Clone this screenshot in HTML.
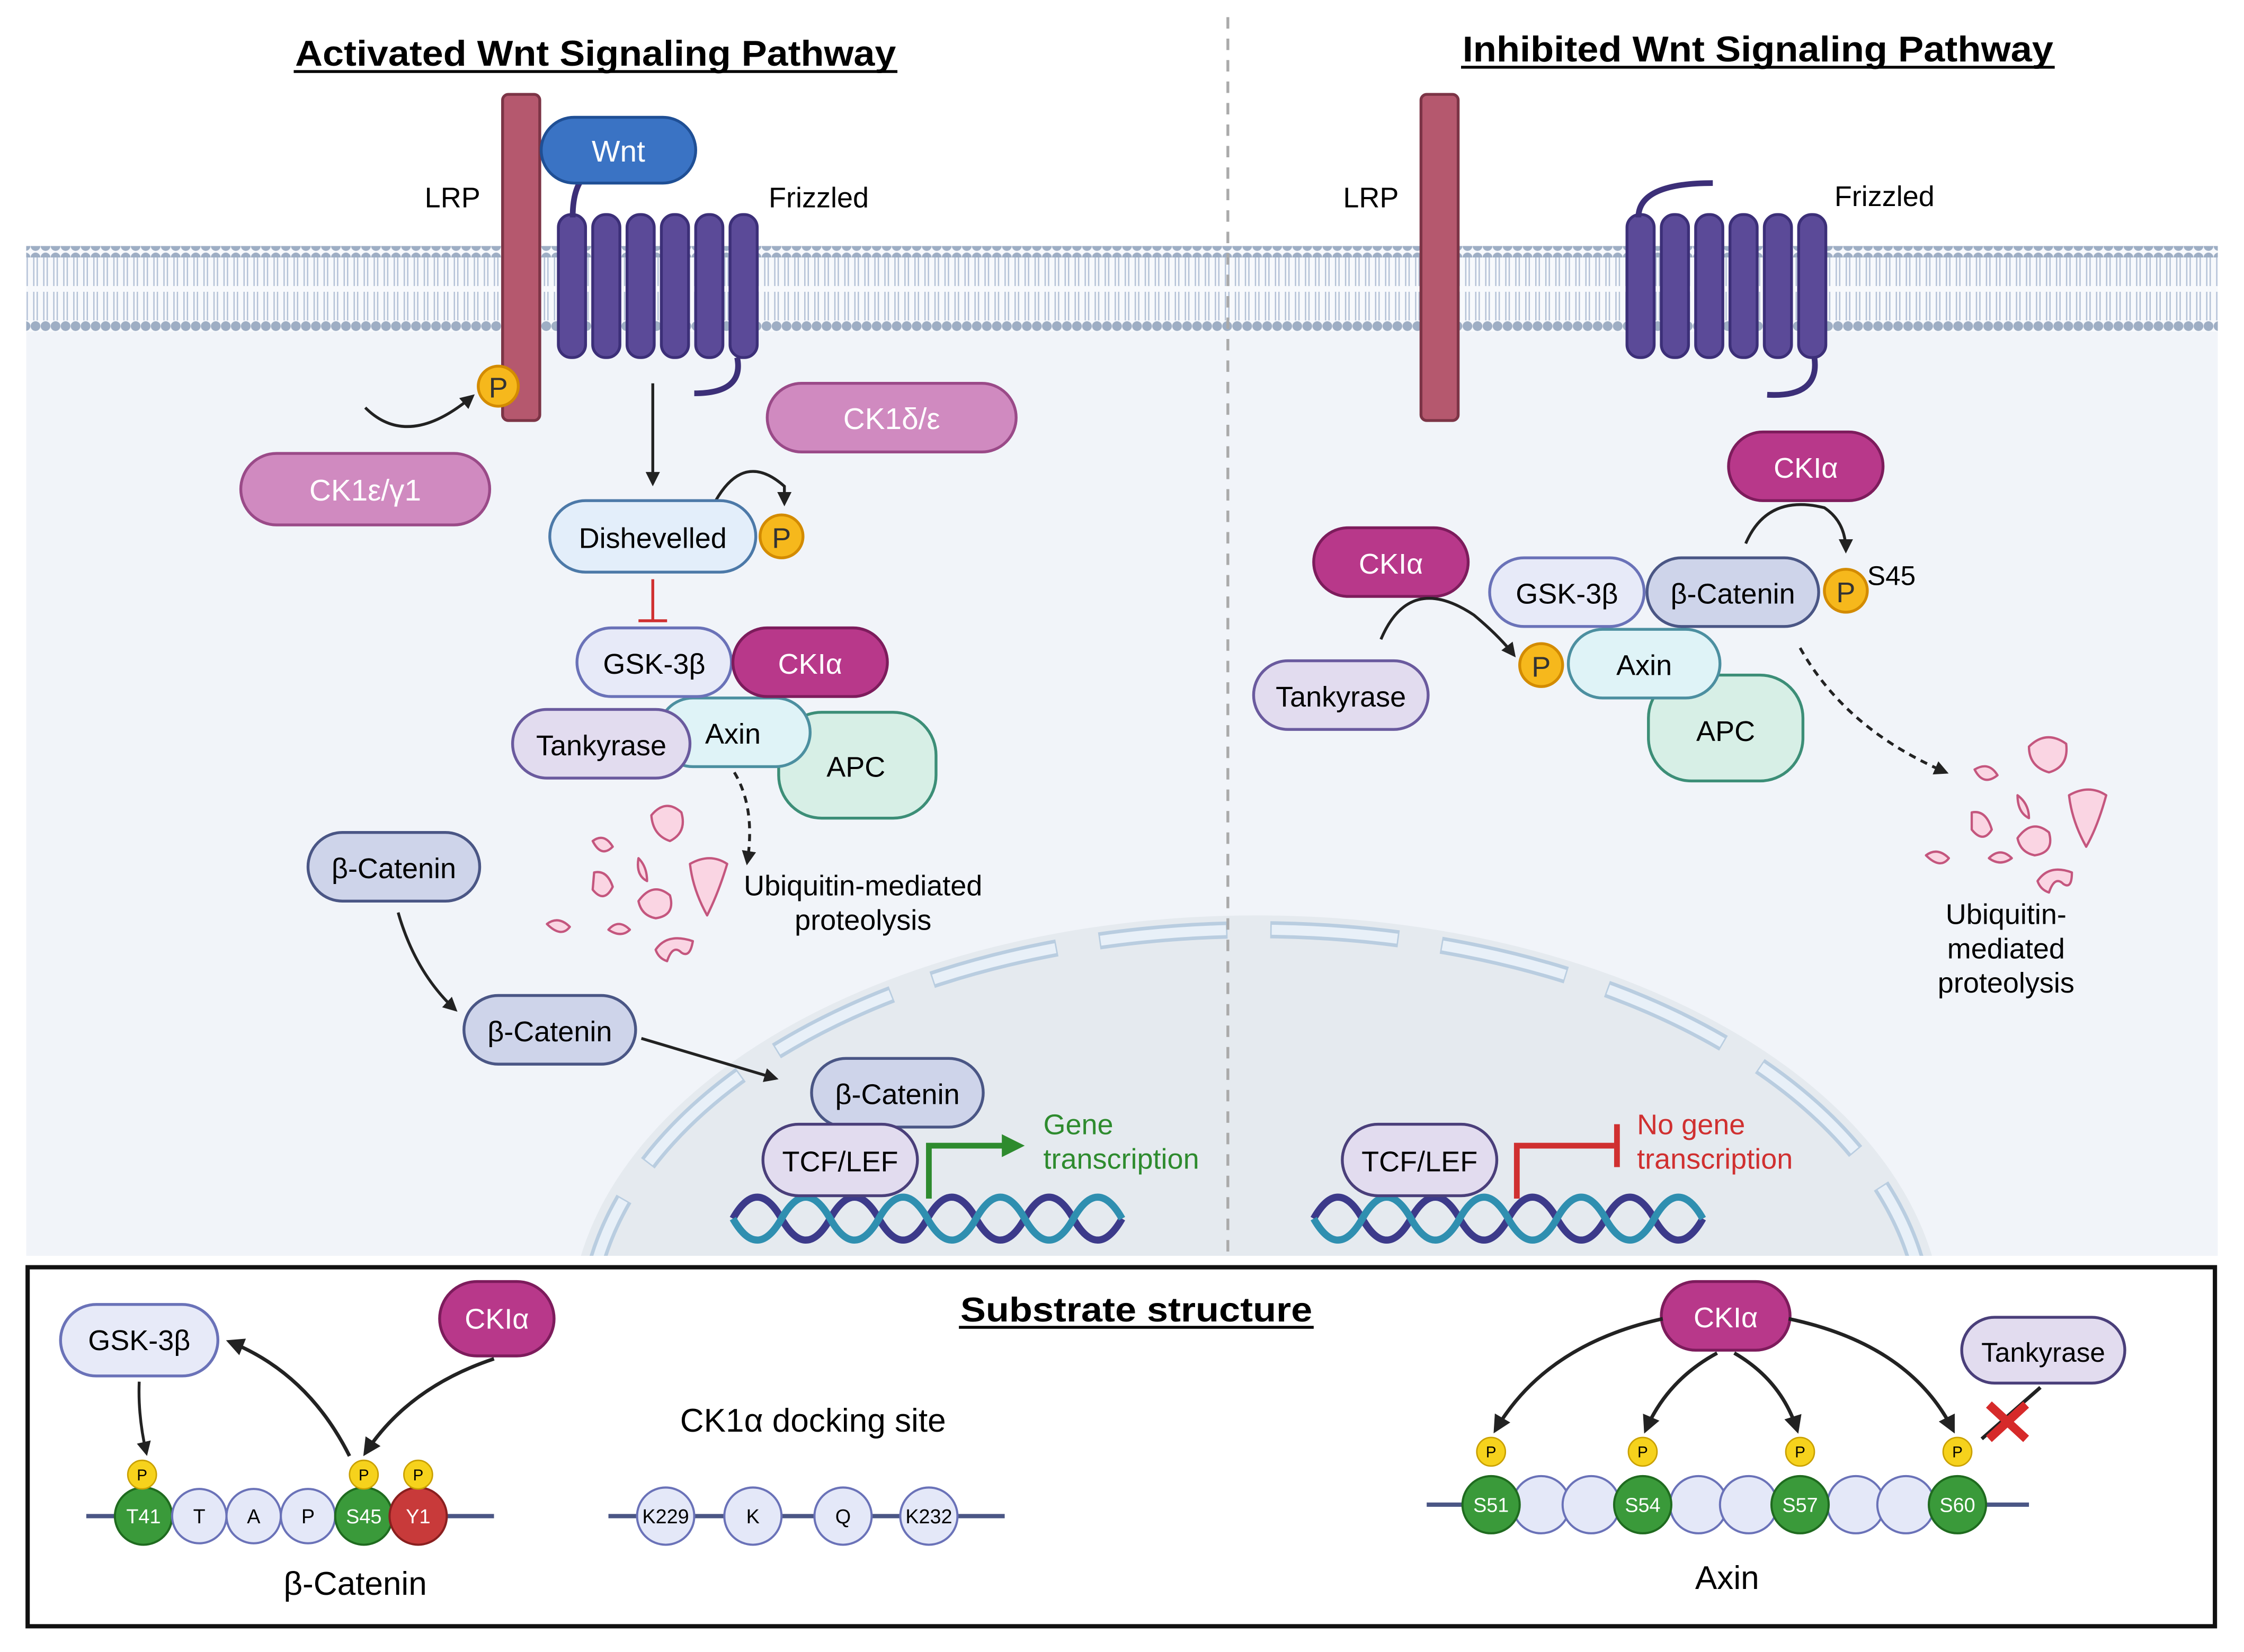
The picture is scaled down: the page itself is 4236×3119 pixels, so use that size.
<!DOCTYPE html>
<html><head><meta charset="utf-8"><style>
html,body{margin:0;padding:0;background:#fff;width:4236px;height:3119px;overflow:hidden}
svg{display:block}
text{font-family:"Liberation Sans",sans-serif}
</style></head><body>
<svg width="4236" height="3119" viewBox="0 0 1568 1155" xmlns="http://www.w3.org/2000/svg">
<defs>
<marker id="ah" viewBox="0 0 10 10" refX="8" refY="5" markerWidth="5" markerHeight="5" orient="auto"><path d="M0,0 L10,5 L0,10 z" fill="#222"/></marker>
<marker id="ahg" viewBox="0 0 10 10" refX="5" refY="5" markerWidth="4" markerHeight="4" orient="auto"><path d="M0,0 L10,5 L0,10 z" fill="#2e8b2e"/></marker>
<pattern id="dots" width="7" height="8" patternUnits="userSpaceOnUse">
<circle cx="3.5" cy="4" r="3.4" fill="#9eaec4"/>
</pattern>
<pattern id="tails" width="7" height="20" patternUnits="userSpaceOnUse">
<line x1="2.3" y1="0" x2="2.3" y2="20" stroke="#b3c1d6" stroke-width="0.9"/>
<line x1="4.7" y1="0" x2="4.7" y2="20" stroke="#b3c1d6" stroke-width="0.9"/>
</pattern>
</defs>
<rect width="1568" height="1155" fill="#fff"/>
<rect x="18" y="200" width="1532" height="678" fill="#f1f4f9"/>
<!-- nucleus -->
<clipPath id="cl"><rect x="0" y="0" width="1568" height="878"/></clipPath>
<g clip-path="url(#cl)">
<ellipse cx="878" cy="930" rx="480" ry="290" fill="#e5eaef"/>
<ellipse cx="878" cy="930" rx="468" ry="280" fill="none" stroke="#b9cde0" stroke-width="12" stroke-dasharray="90 30"/>
<ellipse cx="878" cy="930" rx="468" ry="280" fill="none" stroke="#e8f0f8" stroke-width="7" stroke-dasharray="88 32" stroke-dashoffset="-1"/>
</g>
<!-- membrane -->
<rect x="18" y="172" width="1532" height="60" fill="#f7f9fc"/>
<rect x="18" y="180" width="1532" height="20" fill="url(#tails)"/>
<rect x="18" y="204" width="1532" height="20" fill="url(#tails)"/>
<rect x="18" y="172" width="1532" height="8" fill="url(#dots)"/>
<rect x="18" y="224" width="1532" height="8" fill="url(#dots)"/>
<line x1="858" y1="12" x2="858" y2="878" stroke="#aaa" stroke-width="2" stroke-dasharray="8 7"/>
<!-- titles -->
<text x="206" y="46" font-size="25" font-weight="bold" textLength="420" lengthAdjust="spacingAndGlyphs">Activated Wnt Signaling Pathway</text>
<line x1="205" y1="50" x2="627" y2="50" stroke="#000" stroke-width="2"/>
<text x="1022" y="43" font-size="25" font-weight="bold" textLength="413" lengthAdjust="spacingAndGlyphs">Inhibited Wnt Signaling Pathway</text>
<line x1="1021" y1="47" x2="1436" y2="47" stroke="#000" stroke-width="2"/>
<!-- LRP -->
<rect x="351" y="66" width="26" height="228" rx="4" fill="#b5586e" stroke="#7c3446" stroke-width="2"/>
<text x="316" y="145" font-size="20" text-anchor="middle">LRP</text>
<rect x="993" y="66" width="26" height="228" rx="4" fill="#b5586e" stroke="#7c3446" stroke-width="2"/>
<text x="958" y="145" font-size="20" text-anchor="middle">LRP</text>
<!-- Frizzled left -->
<g fill="#5b4a98" stroke="#3c2f78" stroke-width="2">
<rect x="390" y="150" width="19" height="100" rx="9"/><rect x="414" y="150" width="19" height="100" rx="9"/><rect x="438" y="150" width="19" height="100" rx="9"/><rect x="462" y="150" width="19" height="100" rx="9"/><rect x="486" y="150" width="19" height="100" rx="9"/><rect x="510" y="150" width="19" height="100" rx="9"/>
</g>
<path d="M400 152 Q400 120 420 118 M515 250 Q520 275 485 275" fill="none" stroke="#3c2f78" stroke-width="4"/>
<text x="572" y="145" font-size="20" text-anchor="middle">Frizzled</text>
<g fill="#5b4a98" stroke="#3c2f78" stroke-width="2">
<rect x="1137" y="150" width="19" height="100" rx="9"/><rect x="1161" y="150" width="19" height="100" rx="9"/><rect x="1185" y="150" width="19" height="100" rx="9"/><rect x="1209" y="150" width="19" height="100" rx="9"/><rect x="1233" y="150" width="19" height="100" rx="9"/><rect x="1257" y="150" width="19" height="100" rx="9"/>
</g>
<path d="M1145 152 Q1145 128 1197 128 M1268 250 Q1272 278 1235 276" fill="none" stroke="#3c2f78" stroke-width="4"/>
<text x="1317" y="144" font-size="20" text-anchor="middle">Frizzled</text>
<!-- Wnt -->
<rect x="378" y="82" width="108" height="46" rx="23" fill="#3a73c4" stroke="#1f4f95" stroke-width="2"/>
<text x="432" y="113" font-size="21" fill="#fff" text-anchor="middle">Wnt</text>
<circle cx="348" cy="270" r="14" fill="#f6b81c" stroke="#d38b00" stroke-width="2"/><text x="348" y="278" font-size="20" text-anchor="middle" fill="#333">P</text>
<path d="M255 285 Q285 315 330 277" fill="none" stroke="#222" stroke-width="2" marker-end="url(#ah)"/>
<rect x="168" y="317" width="174" height="50" rx="25" fill="#d08ac0" stroke="#9a4a88" stroke-width="2"/>
<text x="255" y="350" font-size="21" fill="#fff" text-anchor="middle">CK1ε/γ1</text>
<rect x="536" y="268" width="174" height="48" rx="24" fill="#d08ac0" stroke="#9a4a88" stroke-width="2"/>
<text x="623" y="300" font-size="21" fill="#fff" text-anchor="middle">CK1δ/ε</text>
<line x1="456" y1="268" x2="456" y2="338" stroke="#222" stroke-width="2" marker-end="url(#ah)"/>
<path d="M500 350 Q520 315 548 340 L548 352" fill="none" stroke="#222" stroke-width="2" marker-end="url(#ah)"/>
<rect x="384" y="350" width="144" height="50" rx="25" fill="#e3eefa" stroke="#4c79a8" stroke-width="2"/>
<text x="456" y="383" font-size="20" text-anchor="middle">Dishevelled</text>
<circle cx="546" cy="375" r="15" fill="#f6b81c" stroke="#d38b00" stroke-width="2"/><text x="546" y="383" font-size="20" text-anchor="middle" fill="#333">P</text>
<line x1="456" y1="405" x2="456" y2="434" stroke="#d03030" stroke-width="2"/><line x1="446" y1="434" x2="466" y2="434" stroke="#d03030" stroke-width="2"/>
<!-- complex left -->
<rect x="544" y="498" width="110" height="74" rx="30" fill="#d7efe6" stroke="#3c8e77" stroke-width="2"/>
<text x="598" y="543" font-size="20" text-anchor="middle">APC</text>
<rect x="460" y="488" width="106" height="48" rx="24" fill="#dff3f7" stroke="#4c8fa0" stroke-width="2"/>
<text x="512" y="520" font-size="20" text-anchor="middle">Axin</text>
<rect x="403" y="439" width="108" height="48" rx="24" fill="#e7eaf8" stroke="#6a72b8" stroke-width="2"/>
<text x="457" y="471" font-size="20" text-anchor="middle">GSK-3β</text>
<rect x="512" y="439" width="108" height="48" rx="24" fill="#b8388a" stroke="#7d1c5c" stroke-width="2"/>
<text x="566" y="471" font-size="20" fill="#fff" text-anchor="middle">CKIα</text>
<rect x="358" y="496" width="124" height="48" rx="24" fill="#e2dcef" stroke="#6a5a9e" stroke-width="2"/>
<text x="420" y="528" font-size="20" text-anchor="middle">Tankyrase</text>
<path d="M513 540 Q528 565 522 603" fill="none" stroke="#222" stroke-width="2" stroke-dasharray="5 4" marker-end="url(#ah)"/>
<g fill="#fad5e3" stroke="#c4567e" stroke-width="1.6" stroke-linejoin="round">
<path d="M455 570 Q465 558 476 568 Q480 582 468 588 Q456 584 455 570 z"/><path d="M414 588 Q422 582 428 592 Q420 600 414 588z"/><path d="M415 610 Q424 608 428 620 Q422 632 414 622 z"/><path d="M446 600 Q452 606 452 616 Q444 612 446 600z"/><path d="M446 630 Q456 616 468 626 Q472 640 458 642 Q448 640 446 630 z"/><path d="M482 604 Q496 596 508 604 Q502 624 494 640 Q484 622 482 604 z"/><path d="M382 646 Q390 640 398 648 Q392 656 382 646 z"/><path d="M425 650 Q432 642 440 650 Q434 656 425 650z"/><path d="M458 664 Q466 652 484 658 Q482 670 476 666 Q470 660 466 672 Q460 670 458 664 z"/>
</g>
<text x="603" y="626" font-size="20" text-anchor="middle">Ubiquitin-mediated</text>
<text x="603" y="650" font-size="20" text-anchor="middle">proteolysis</text>
<rect x="215" y="582" width="120" height="48" rx="24" fill="#ced4ea" stroke="#4a5685" stroke-width="2"/>
<text x="275" y="614" font-size="20" text-anchor="middle">β-Catenin</text>
<path d="M278 638 Q290 680 318 706" fill="none" stroke="#222" stroke-width="2" marker-end="url(#ah)"/>
<rect x="324" y="696" width="120" height="48" rx="24" fill="#ced4ea" stroke="#4a5685" stroke-width="2"/>
<text x="384" y="728" font-size="20" text-anchor="middle">β-Catenin</text>
<line x1="448" y1="726" x2="542" y2="754" stroke="#222" stroke-width="2" marker-end="url(#ah)"/>
<!-- DNA -->
<g fill="none" stroke-width="5">
<path d="M512 852 q17 -30 34 0 t34 0 t34 0 t34 0 t34 0 t34 0 t34 0 t34 0" stroke="#3c3a8a"/>
<path d="M512 852 q17 30 34 0 t34 0 t34 0 t34 0 t34 0 t34 0 t34 0 t34 0" stroke="#2f8fb0"/>
<path d="M918 852 q17 -30 34 0 t34 0 t34 0 t34 0 t34 0 t34 0 t34 0 t34 0" stroke="#3c3a8a"/>
<path d="M918 852 q17 30 34 0 t34 0 t34 0 t34 0 t34 0 t34 0 t34 0 t34 0" stroke="#2f8fb0"/>
</g>
<rect x="567" y="740" width="120" height="48" rx="24" fill="#ced4ea" stroke="#4a5685" stroke-width="2"/>
<text x="627" y="772" font-size="20" text-anchor="middle">β-Catenin</text>
<rect x="533" y="786" width="108" height="50" rx="25" fill="#e2dcef" stroke="#4a3f7a" stroke-width="2"/>
<text x="587" y="819" font-size="20" text-anchor="middle">TCF/LEF</text>
<path d="M649 838 L649 801 L708 801" fill="none" stroke="#2e8b2e" stroke-width="4" marker-end="url(#ahg)"/>
<text x="729" y="793" font-size="20" fill="#2e8b2e">Gene</text>
<text x="729" y="817" font-size="20" fill="#2e8b2e">transcription</text>
<!-- right -->
<rect x="938" y="786" width="108" height="50" rx="25" fill="#e2dcef" stroke="#4a3f7a" stroke-width="2"/>
<text x="992" y="819" font-size="20" text-anchor="middle">TCF/LEF</text>
<path d="M1060 838 L1060 801 L1128 801" fill="none" stroke="#d03030" stroke-width="4"/>
<line x1="1130" y1="786" x2="1130" y2="816" stroke="#d03030" stroke-width="4"/>
<text x="1144" y="793" font-size="20" fill="#d03030">No gene</text>
<text x="1144" y="817" font-size="20" fill="#d03030">transcription</text>
<rect x="1152" y="472" width="108" height="74" rx="30" fill="#d7efe6" stroke="#3c8e77" stroke-width="2"/>
<text x="1206" y="518" font-size="20" text-anchor="middle">APC</text>
<rect x="1096" y="440" width="106" height="48" rx="24" fill="#dff3f7" stroke="#4c8fa0" stroke-width="2"/>
<text x="1149" y="472" font-size="20" text-anchor="middle">Axin</text>
<rect x="1041" y="390" width="108" height="48" rx="24" fill="#e7eaf8" stroke="#6a72b8" stroke-width="2"/>
<text x="1095" y="422" font-size="20" text-anchor="middle">GSK-3β</text>
<rect x="1151" y="390" width="120" height="48" rx="24" fill="#ced4ea" stroke="#4a5685" stroke-width="2"/>
<text x="1211" y="422" font-size="20" text-anchor="middle">β-Catenin</text>
<circle cx="1290" cy="413" r="15" fill="#f6b81c" stroke="#d38b00" stroke-width="2"/><text x="1290" y="421" font-size="20" text-anchor="middle" fill="#333">P</text>
<text x="1305" y="409" font-size="19">S45</text>
<rect x="1208" y="302" width="108" height="48" rx="24" fill="#b8388a" stroke="#7d1c5c" stroke-width="2"/>
<text x="1262" y="334" font-size="20" fill="#fff" text-anchor="middle">CKIα</text>
<path d="M1220 380 Q1235 345 1275 355 Q1290 365 1290 385" fill="none" stroke="#222" stroke-width="2" marker-end="url(#ah)"/>
<rect x="918" y="369" width="108" height="48" rx="24" fill="#b8388a" stroke="#7d1c5c" stroke-width="2"/>
<text x="972" y="401" font-size="20" fill="#fff" text-anchor="middle">CKIα</text>
<rect x="876" y="462" width="122" height="48" rx="24" fill="#e2dcef" stroke="#6a5a9e" stroke-width="2"/>
<text x="937" y="494" font-size="20" text-anchor="middle">Tankyrase</text>
<path d="M965 447 Q985 400 1030 430 Q1048 445 1058 458" fill="none" stroke="#222" stroke-width="2" marker-end="url(#ah)"/>
<circle cx="1077" cy="465" r="15" fill="#f6b81c" stroke="#d38b00" stroke-width="2"/><text x="1077" y="473" font-size="20" text-anchor="middle" fill="#333">P</text>
<path d="M1258 453 Q1290 510 1360 540" fill="none" stroke="#222" stroke-width="2" stroke-dasharray="5 4" marker-end="url(#ah)"/>
<g fill="#fad5e3" stroke="#c4567e" stroke-width="1.6" stroke-linejoin="round">
<path d="M1418 522 Q1430 510 1444 520 Q1446 536 1432 540 Q1418 536 1418 522 z"/><path d="M1380 538 Q1390 532 1396 542 Q1386 550 1380 538z"/><path d="M1378 568 Q1388 566 1392 580 Q1386 590 1378 580 z"/><path d="M1410 556 Q1418 562 1418 572 Q1410 568 1410 556z"/><path d="M1410 586 Q1420 572 1432 582 Q1436 596 1422 598 Q1412 596 1410 586 z"/><path d="M1446 556 Q1460 548 1472 556 Q1466 578 1458 592 Q1448 574 1446 556 z"/><path d="M1346 598 Q1354 592 1362 600 Q1356 608 1346 598z"/><path d="M1390 600 Q1398 592 1406 600 Q1398 606 1390 600z"/><path d="M1424 616 Q1432 604 1448 610 Q1448 622 1442 618 Q1436 612 1432 624 Q1426 622 1424 616 z"/>
</g>
<text x="1402" y="646" font-size="20" text-anchor="middle">Ubiquitin-</text>
<text x="1402" y="670" font-size="20" text-anchor="middle">mediated</text>
<text x="1402" y="694" font-size="20" text-anchor="middle">proteolysis</text>
<!-- bottom box -->
<rect x="19" y="886" width="1529" height="251" fill="#fff" stroke="#111" stroke-width="3"/>
<text x="671" y="924" font-size="24" font-weight="bold" textLength="246" lengthAdjust="spacingAndGlyphs">Substrate structure</text>
<line x1="670" y1="928" x2="918" y2="928" stroke="#000" stroke-width="2"/>
<line x1="60" y1="1060" x2="345" y2="1060" stroke="#4a5685" stroke-width="3"/>
<rect x="42" y="912" width="110" height="50" rx="25" fill="#e7eaf8" stroke="#6a72b8" stroke-width="2"/>
<text x="97" y="944" font-size="20" text-anchor="middle">GSK-3β</text>
<rect x="307" y="896" width="80" height="52" rx="26" fill="#b8388a" stroke="#7d1c5c" stroke-width="2"/>
<text x="347" y="929" font-size="20" fill="#fff" text-anchor="middle">CKIα</text>
<path d="M97 966 Q96 990 102 1016" fill="none" stroke="#222" stroke-width="2" marker-end="url(#ah)"/>
<path d="M244 1018 Q215 960 160 938" fill="none" stroke="#222" stroke-width="2.5" marker-end="url(#ah)"/>
<path d="M345 950 Q285 970 255 1016" fill="none" stroke="#222" stroke-width="2.5" marker-end="url(#ah)"/>
<circle cx="100" cy="1060" r="20" fill="#3a9a3a" stroke="#1f6b1f" stroke-width="1.5"/><text x="100" y="1065" font-size="14" fill="#fff" text-anchor="middle">T41</text>
<circle cx="139" cy="1060" r="19" fill="#e4e8f8" stroke="#6a72b8" stroke-width="1.5"/><text x="139" y="1065" font-size="14" text-anchor="middle">T</text>
<circle cx="177" cy="1060" r="19" fill="#e4e8f8" stroke="#6a72b8" stroke-width="1.5"/><text x="177" y="1065" font-size="14" text-anchor="middle">A</text>
<circle cx="215" cy="1060" r="19" fill="#e4e8f8" stroke="#6a72b8" stroke-width="1.5"/><text x="215" y="1065" font-size="14" text-anchor="middle">P</text>
<circle cx="254" cy="1060" r="20" fill="#3a9a3a" stroke="#1f6b1f" stroke-width="1.5"/><text x="254" y="1065" font-size="14" fill="#fff" text-anchor="middle">S45</text>
<circle cx="292" cy="1060" r="20" fill="#c83a3a" stroke="#8a1f1f" stroke-width="1.5"/><text x="292" y="1065" font-size="14" fill="#fff" text-anchor="middle">Y1</text>
<g font-size="11" text-anchor="middle">
<circle cx="99" cy="1031" r="10" fill="#f6d21c" stroke="#c9a000"/><text x="99" y="1035">P</text>
<circle cx="254" cy="1031" r="10" fill="#f6d21c" stroke="#c9a000"/><text x="254" y="1035">P</text>
<circle cx="292" cy="1031" r="10" fill="#f6d21c" stroke="#c9a000"/><text x="292" y="1035">P</text>
</g>
<text x="248" y="1115" font-size="23" text-anchor="middle">β-Catenin</text>
<text x="568" y="1001" font-size="23" text-anchor="middle">CK1α docking site</text>
<line x1="425" y1="1060" x2="702" y2="1060" stroke="#4a5685" stroke-width="3"/>
<g font-size="14" text-anchor="middle">
<circle cx="465" cy="1060" r="20" fill="#e4e8f8" stroke="#6a72b8" stroke-width="1.5"/><text x="465" y="1065">K229</text>
<circle cx="526" cy="1060" r="20" fill="#e4e8f8" stroke="#6a72b8" stroke-width="1.5"/><text x="526" y="1065">K</text>
<circle cx="589" cy="1060" r="20" fill="#e4e8f8" stroke="#6a72b8" stroke-width="1.5"/><text x="589" y="1065">Q</text>
<circle cx="649" cy="1060" r="20" fill="#e4e8f8" stroke="#6a72b8" stroke-width="1.5"/><text x="649" y="1065">K232</text>
</g>
<line x1="997" y1="1052" x2="1418" y2="1052" stroke="#4a5685" stroke-width="3"/>
<g fill="#e4e8f8" stroke="#6a72b8" stroke-width="1.5">
<circle cx="1077" cy="1052" r="20"/><circle cx="1112" cy="1052" r="20"/><circle cx="1187" cy="1052" r="20"/><circle cx="1222" cy="1052" r="20"/><circle cx="1297" cy="1052" r="20"/><circle cx="1332" cy="1052" r="20"/>
</g>
<g fill="#3a9a3a" stroke="#1f6b1f" stroke-width="1.5">
<circle cx="1042" cy="1052" r="20"/><circle cx="1148" cy="1052" r="20"/><circle cx="1258" cy="1052" r="20"/><circle cx="1368" cy="1052" r="20"/>
</g>
<g font-size="14" fill="#fff" text-anchor="middle">
<text x="1042" y="1057">S51</text><text x="1148" y="1057">S54</text><text x="1258" y="1057">S57</text><text x="1368" y="1057">S60</text>
</g>
<g font-size="11" text-anchor="middle">
<circle cx="1042" cy="1015" r="10" fill="#f6d21c" stroke="#c9a000"/><text x="1042" y="1019">P</text>
<circle cx="1148" cy="1015" r="10" fill="#f6d21c" stroke="#c9a000"/><text x="1148" y="1019">P</text>
<circle cx="1258" cy="1015" r="10" fill="#f6d21c" stroke="#c9a000"/><text x="1258" y="1019">P</text>
<circle cx="1368" cy="1015" r="10" fill="#f6d21c" stroke="#c9a000"/><text x="1368" y="1019">P</text>
</g>
<rect x="1161" y="896" width="90" height="48" rx="24" fill="#b8388a" stroke="#7d1c5c" stroke-width="2"/>
<text x="1206" y="928" font-size="20" fill="#fff" text-anchor="middle">CKIα</text>
<path d="M1162 922 Q1080 940 1045 1000" fill="none" stroke="#222" stroke-width="2.5" marker-end="url(#ah)"/>
<path d="M1200 946 Q1165 965 1150 1000" fill="none" stroke="#222" stroke-width="2.5" marker-end="url(#ah)"/>
<path d="M1212 946 Q1245 965 1256 1000" fill="none" stroke="#222" stroke-width="2.5" marker-end="url(#ah)"/>
<path d="M1250 922 Q1335 940 1365 1000" fill="none" stroke="#222" stroke-width="2.5" marker-end="url(#ah)"/>
<rect x="1371" y="921" width="114" height="46" rx="23" fill="#e2dcef" stroke="#4a3f7a" stroke-width="2"/>
<text x="1428" y="952" font-size="19" text-anchor="middle">Tankyrase</text>
<line x1="1426" y1="970" x2="1385" y2="1006" stroke="#222" stroke-width="2.5"/>
<path d="M1390 982 L1416 1006 M1416 982 L1390 1006" stroke="#d62a2a" stroke-width="6"/>
<text x="1207" y="1111" font-size="23" text-anchor="middle">Axin</text>
</svg>
</body></html>
